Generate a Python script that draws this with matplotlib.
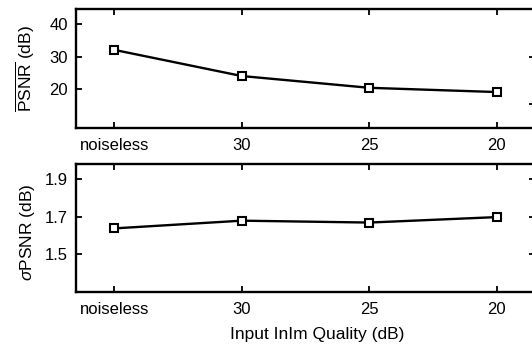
import numpy as np
import matplotlib.pyplot as plt

plt.rcParams['font.family'] = ['Liberation Sans', 'DejaVu Sans']
plt.rcParams['mathtext.fontset'] = 'custom'
plt.rcParams['mathtext.rm'] = 'Liberation Sans'
plt.rcParams['mathtext.it'] = 'Liberation Sans:italic'
plt.rcParams['font.size'] = 12

# input image quality levels
quality = ['noiseless', '30', '25', '20']
# mean PSNR and its standard deviation (dB)
psnr_mean = [32.1, 24.1, 20.5, 19.2]
psnr_std = [1.638, 1.679, 1.669, 1.698]

x = np.arange(1, len(quality) + 1)

fig = plt.figure(figsize=(5.32, 3.46), dpi=100)
ax1 = fig.add_axes([0.1429, 0.630, 0.8628, 0.344])
ax2 = fig.add_axes([0.1429, 0.156, 0.8628, 0.370])

def style(ax):
    ax.set_xlim(0.7, 4.3)
    ax.set_xticks(x)
    ax.set_xticklabels(quality)
    ax.tick_params(direction='in', length=4, width=1.3, top=True,
                   labelsize=12, pad=6)
    ax.tick_params(axis='x', pad=7)
    for s in ax.spines.values():
        s.set_linewidth(1.7)

ax1.plot(x, psnr_mean, color='black', lw=1.7, marker='s', ms=5.5,
         mfc='white', mec='black', mew=1.5)
style(ax1)
ax1.set_ylim(8.2, 44.6)
ax1.set_yticks([20, 30, 40])
ax1.set_ylabel(r'$\overline{\mathrm{PSNR}}$ (dB)', fontsize=12.5)
ax1.yaxis.set_label_coords(-0.084, 0.5)

# right-hand marks of the panel next to this one
tw = ax1.twinx()
tw.set_ylim(8.2, 44.6)
tw.set_yticks([15.5, 30])
tw.set_yticklabels([])
tw.tick_params(direction='in', length=4, width=1.3)
for s in tw.spines.values():
    s.set_visible(False)

ax2.plot(x, psnr_std, color='black', lw=1.7, marker='s', ms=5.5,
         mfc='white', mec='black', mew=1.5)
style(ax2)
ax2.tick_params(axis='y', right=True)
ax2.set_ylim(1.30, 1.98)
ax2.set_yticks([1.5, 1.7, 1.9])
ax2.set_ylabel(r'$\sigma$PSNR (dB)', fontsize=12.5)
ax2.yaxis.set_label_coords(-0.084, 0.47)
ax2.set_xlabel('Input InIm Quality (dB)', fontsize=12.5)
ax2.xaxis.set_label_coords(0.525, -0.27)

fig.savefig('out.png', dpi=100)
